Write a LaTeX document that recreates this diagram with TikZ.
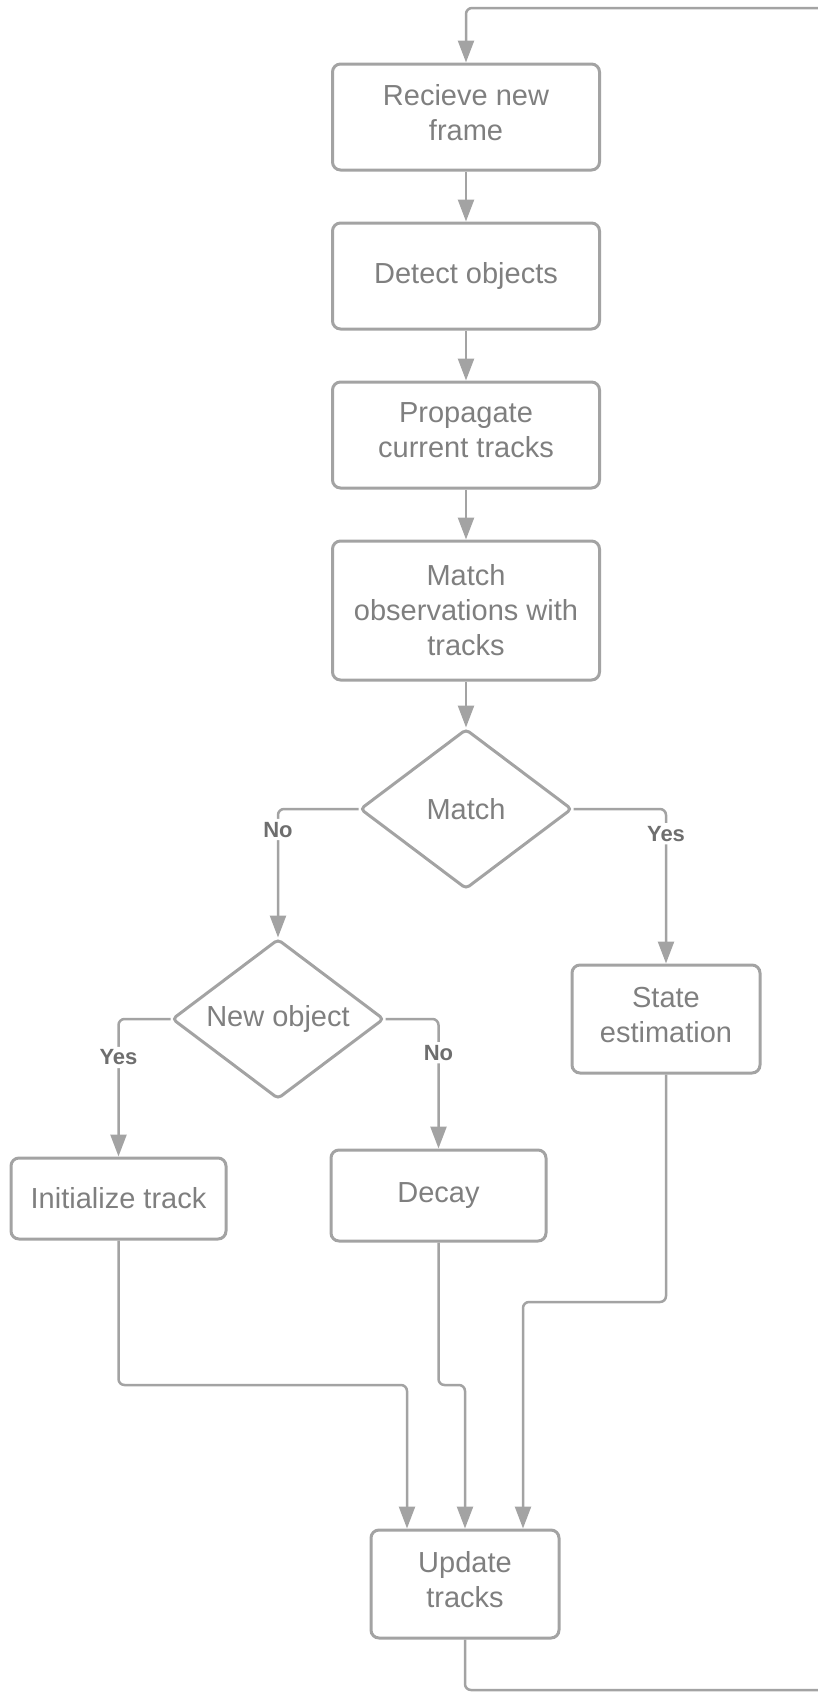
\documentclass[tikz,border=0pt]{standalone}
\usepackage{fontspec}
\setmainfont{Liberation Sans}
\usetikzlibrary{arrows.meta,positioning,shapes.geometric}
\definecolor{linegray}{HTML}{A3A3A3}
\definecolor{textgray}{HTML}{7F7F7F}
\definecolor{lblgray}{HTML}{6E6E6E}

\begin{document}
\begin{tikzpicture}[x=1pt, y=-1pt, node distance=50pt, >={Triangle[length=22pt,width=16pt]}, every node/.style={font=\fontsize{29}{35}\selectfont, text=textgray}]
\tikzstyle{box}=[draw=linegray, line width=3pt, rounded corners=8pt, minimum width=267pt, minimum height=106pt, align=center, inner sep=4pt]
\tikzstyle{twoline}=[text depth=9pt]
\tikzstyle{small}=[box, twoline, minimum width=188pt, minimum height=108pt]
\tikzstyle{decide}=[draw=linegray, line width=3pt, diamond, shape aspect=1.35, rounded corners=4pt, minimum width=212pt, minimum height=160pt, inner sep=0pt, align=center]
\tikzstyle{lbl}=[fill=white, font=\fontsize{22}{26}\selectfont\bfseries, text=lblgray, inner sep=3pt]
\tikzstyle{conn}=[draw=linegray, line width=2.5pt, rounded corners=6pt, ->]
\useasboundingbox (0,0) rectangle (818,1692);

\node[box, twoline] (recv) at (466,117) {Recieve new\\frame};
\node[box, below=of recv] (detect) {Detect objects};
\node[box, twoline, below=of detect] (prop) {Propagate\\current tracks};
\node[box, below=of prop, minimum height=139pt] (obs) {Match\\observations with\\tracks};
\draw[conn] (recv.south) -- (detect.north);
\draw[conn] (detect.south) -- (prop.north);
\draw[conn] (prop.south) -- (obs.north);

\node[decide, below=46pt of obs] (match) {Match};
\draw[conn] (obs.south) -- (match.north);

\node[decide] (newobj) at (278,1019) {New object};
\node[small] (state) at (666,1019) {State\\estimation};
\draw[conn] (match.west) -| node[lbl, pos=0.58] {No} (newobj.north);
\draw[conn] (match.east) -| node[lbl, pos=0.58] {Yes} (state.north);

\node[box, minimum width=215pt, minimum height=81pt] (init) at (118.5,1198.5) {Initialize track};
\node[box, minimum width=215pt, minimum height=91pt] (decay) at (438.5,1195.5) {Decay};
\draw[conn] (newobj.west) -| node[lbl, pos=0.64] {Yes} (init.north);
\draw[conn] (newobj.east) -| node[lbl, pos=0.63] {No} (decay.north);

\node[small] (update) at (465,1584) {Update\\tracks};
\coordinate (lowrow) at (0,1385);
\coordinate (highrow) at (0,1302);
\draw[conn] (init.south) -- (init.south |- lowrow) -| ([xshift=-58pt]update.north);
\draw[conn] (decay.south) -- (decay.south |- lowrow) -| (update.north);
\draw[conn] (state.south) -- (state.south |- highrow) -| ([xshift=58pt]update.north);

% back to the top
\coordinate (loopbot) at (860,1690);
\coordinate (looptop) at (860,8);
\draw[conn] (update.south) |- (loopbot) -- (looptop) -| (recv.north);
\end{tikzpicture}
\end{document}
